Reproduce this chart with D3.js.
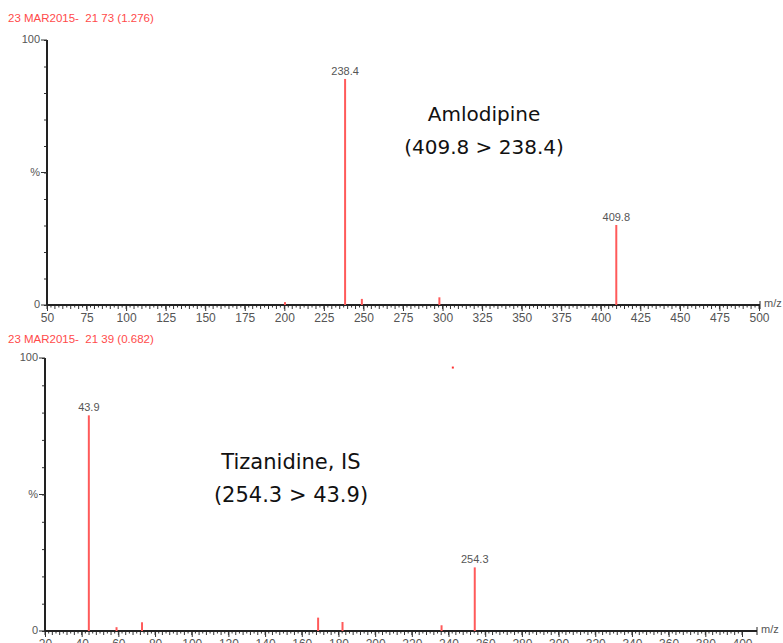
<!DOCTYPE html>
<html>
<head>
<meta charset="utf-8">
<script src="https://cdn.jsdelivr.net/npm/d3@7"></script>
<style>
body { margin: 0; background: #fff; }
svg { display: block; }
</style>
</head>
<body>
<div id="chart"></div>
<script>
// top spectrum - Amlodipine
var topTitle = "23 MAR2015-  21 73 (1.276)";
var topMz = [200.4, 238.4, 249.0, 298.0, 409.8];
var topInt = [1.1, 85.3, 2.3, 2.9, 30.2];
var topLabels = ["", "238.4", "", "", "409.8"];
var topTicks = [50, 75, 100, 125, 150, 175, 200, 225, 250, 275, 300, 325, 350, 375, 400, 425, 450, 475, 500];
var topNote = ["Amlodipine", "(409.8 > 238.4)"];

// bottom spectrum - Tizanidine IS
var botTitle = "23 MAR2015-  21 39 (0.682)";
var botMz = [43.9, 59.0, 72.9, 168.9, 182.2, 236.2, 254.3];
var botInt = [79.0, 1.4, 3.2, 4.9, 3.3, 2.1, 23.3];
var botLabels = ["43.9", "", "", "", "", "", "254.3"];
var botTicks = [20, 40, 60, 80, 100, 120, 140, 160, 180, 200, 220, 240, 260, 280, 300, 320, 340, 360, 380, 400];
var botNote = ["Tizanidine, IS", "(254.3 > 43.9)"];
var botStray = [[241.8, 96.5]];

var W = 783, H = 643;
var svg = d3.select("#chart").append("svg").attr("width", W).attr("height", H);

function panel (opt) {
	var g = svg.append("g");
	var x = d3.scaleLinear().domain(opt.domain).range(opt.xr);
	var y = d3.scaleLinear().domain([0, 100]).range(opt.yr);

	g.append("text").attr("x", 8).attr("y", opt.titleY)
		.attr("font-family", "Liberation Sans, Arial").attr("font-size", 11.5)
		.attr("fill", "#ff4a4a").attr("xml:space", "preserve").text(opt.title);

	// x axis: minor ticks, then labelled major ticks
	var minor = d3.range(opt.domain[0], opt.domain[1] + 0.001, opt.minorStep);
	g.append("g").selectAll("line").data(minor).enter().append("line")
		.attr("x1", function (d) { return x(d); }).attr("x2", function (d) { return x(d); })
		.attr("y1", y(0)).attr("y2", function (d, i) { return y(0) + (i % 2 == 0 ? 4 : 2.5); })
		.attr("stroke", "#333").attr("stroke-width", 1);
	var xa = d3.axisBottom(x).tickValues(opt.ticks).tickSize(6).tickPadding(2);
	var gx = g.append("g").attr("transform", "translate(0," + y(0) + ")").call(xa);
	gx.select(".domain").remove();
	gx.selectAll(".tick line").attr("stroke", "#333");
	gx.selectAll("text").attr("font-family", "Liberation Sans, Arial").attr("font-size", 12).attr("fill", "#555");
	g.append("line").attr("x1", opt.xr[0]).attr("x2", opt.axisEnd).attr("y1", y(0)).attr("y2", y(0))
		.attr("stroke", "#222").attr("stroke-width", 2);
	g.append("line").attr("x1", opt.axisEnd).attr("x2", opt.axisEnd).attr("y1", y(0) - 4).attr("y2", y(0) + 4)
		.attr("stroke", "#222").attr("stroke-width", 1);
	g.append("text").attr("x", opt.axisEnd + 4).attr("y", y(0) + 2)
		.attr("font-family", "Liberation Sans, Arial").attr("font-size", 11).attr("fill", "#555").text("m/z");

	// y axis
	var ya = d3.axisLeft(y).tickValues(d3.range(0, 101, 10)).tickSize(3).tickFormat("");
	var gy = g.append("g").attr("transform", "translate(" + opt.xr[0] + ",0)").call(ya);
	gy.select(".domain").remove();
	gy.selectAll(".tick line").attr("stroke", "#333");
	g.append("line").attr("x1", opt.xr[0]).attr("x2", opt.xr[0]).attr("y1", y(100)).attr("y2", y(0))
		.attr("stroke", "#222").attr("stroke-width", 2);
	var yl = [[100, "100"], [50, "%"], [0, "0"]];
	g.selectAll("line.ymaj").data(yl).enter().append("line").attr("class", "ymaj")
		.attr("x1", opt.xr[0] - 6).attr("x2", opt.xr[0]).attr("y1", function (d) { return y(d[0]); })
		.attr("y2", function (d) { return y(d[0]); }).attr("stroke", "#333");
	g.selectAll("text.ylab").data(yl).enter().append("text").attr("class", "ylab")
		.attr("x", opt.xr[0] - 7).attr("y", function (d) { return y(d[0]) + 3; })
		.attr("text-anchor", "end").attr("font-family", "Liberation Sans, Arial").attr("font-size", 11)
		.attr("fill", "#555").text(function (d) { return d[1]; });

	// peaks
	var peaks = opt.mz.map(function (m, i) { return {mz: m, v: opt.int[i], label: opt.labels[i]}; });
	g.selectAll("line.peak").data(peaks).enter().append("line").attr("class", "peak")
		.attr("x1", function (d) { return x(d.mz); }).attr("x2", function (d) { return x(d.mz); })
		.attr("y1", y(0)).attr("y2", function (d) { return y(d.v); })
		.attr("stroke", "#ff5a5a").attr("stroke-width", 2);
	g.selectAll("text.plab").data(peaks.filter(function (d) { return d.label; })).enter().append("text")
		.attr("class", "plab").attr("x", function (d) { return x(d.mz); })
		.attr("y", function (d) { return y(d.v) - 4; }).attr("text-anchor", "middle")
		.attr("font-family", "Liberation Sans, Arial").attr("font-size", 11).attr("fill", "#555")
		.text(function (d) { return d.label; });
	if (opt.stray) {
		g.selectAll("line.stray").data(opt.stray).enter().append("line").attr("class", "stray")
			.attr("x1", function (d) { return x(d[0]); }).attr("x2", function (d) { return x(d[0]) + 2; })
			.attr("y1", function (d) { return y(d[1]); }).attr("y2", function (d) { return y(d[1]); })
			.attr("stroke", "#ff3030").attr("stroke-width", 2);
	}

	// compound annotation
	g.selectAll("text.note").data(opt.note).enter().append("text").attr("class", "note")
		.attr("x", opt.noteX).attr("y", function (d, i) { return opt.noteY + i * 33; })
		.attr("text-anchor", "middle").attr("font-family", "DejaVu Sans, sans-serif").attr("font-size", opt.noteSize)
		.attr("fill", "#111").text(function (d) { return d; });
}

panel({title: topTitle, titleY: 22, domain: [50, 500], xr: [47, 759], yr: [305, 40], axisEnd: 760,
	ticks: topTicks, minorStep: 2.5, mz: topMz, int: topInt, labels: topLabels,
	note: topNote, noteX: 484, noteY: 121, noteSize: 20});
panel({title: botTitle, titleY: 343, domain: [20, 400], xr: [45, 742], yr: [631, 358], axisEnd: 757,
	ticks: botTicks, minorStep: 2, mz: botMz, int: botInt, labels: botLabels, stray: botStray,
	note: botNote, noteX: 291, noteY: 469, noteSize: 21});
</script>
</body>
</html>
